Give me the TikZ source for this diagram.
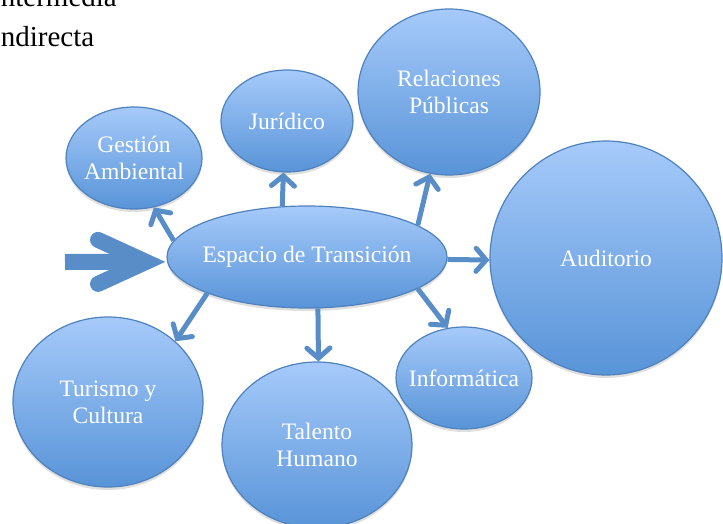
\documentclass[tikz,border=0pt]{standalone}
\usepackage{fontspec}
\setmainfont{Liberation Serif}
\usepackage{tikz}
\usetikzlibrary{positioning,arrows.meta,shapes.geometric,calc,shadows}
\definecolor{bubtop}{RGB}{166,202,250}
\definecolor{bubbot}{RGB}{88,148,216}
\definecolor{bubedge}{RGB}{79,129,189}
\definecolor{arrblue}{RGB}{88,141,200}
\tikzset{
  bubble/.style={ellipse, draw=bubedge, line width=1.2pt, top color=bubtop, bottom color=bubbot, inner sep=-20pt,
    align=center, text=white, font=\fontsize{23.6}{27}\selectfont,
    drop shadow={shadow xshift=0pt, shadow yshift=-3pt, opacity=0.25}},
  arr/.style={-{Straight Barb[length=10pt, width=23pt, line cap=round]}, line width=5pt, draw=arrblue},
  bigshaft/.style={line width=16pt, draw=arrblue},
  bigbarb/.style={line width=16pt, draw=arrblue, line cap=round, line join=miter},
  title/.style={anchor=base west, inner sep=0pt, font=\fontsize{29}{40}\selectfont},
}
\begin{document}
\begin{tikzpicture}[x=1pt, y=-1pt]
    \useasboundingbox (0,0) rectangle (723,524);
    \clip (0,0) rectangle (723,524);
    \node[title] (inter) at (-9,7) {Intermedia};
    \node[title] (indir) at (-9,47) {Indirecta};
    \node[bubble, minimum width=280, minimum height=102] (espacio) at (307,257) {Espacio de Transición};
    \node[bubble, minimum width=136, minimum height=102] (gestion) at (134,158) {Gestión\\Ambiental};
    \node[bubble, minimum width=132, minimum height=102] (juridico) at (287,121) {Jurídico};
    \node[bubble, minimum width=182, minimum height=166] (relaciones) at (449,92) {Relaciones\\Públicas};
    \node[bubble, minimum width=232, minimum height=234] (auditorio) at (606,258) {Auditorio};
    \node[bubble, minimum width=136, minimum height=102] (informatica) at (464,378) {Informática};
    \node[bubble, minimum width=190, minimum height=166] (talento) at (317,445) {Talento\\Humano};
    \node[bubble, minimum width=190, minimum height=170] (turismo) at (108,402) {Turismo y\\Cultura};
    \draw[arr] (espacio.173) -- (gestion.292);
    \draw[arr] (espacio.116) -- (juridico.266);
    \draw[arr] (espacio.16) -- (relaciones.257);
    \draw[arr] (espacio.359) -- (auditorio.181);
    \draw[arr] (espacio.344) -- (informatica.108);
    \draw[arr] (espacio.282) -- (talento.89);
    \draw[arr] (espacio.200) -- (turismo.42);
    \coordinate (entrada) at (65,262);
    \coordinate (punta) at ($(espacio.182)+(-21,0)$);
    \draw[bigshaft] (entrada) -- (punta);
    \draw[bigbarb] ($(punta)+(-48,-22)$) -- (punta) -- ($(punta)+(-48,22)$);
\end{tikzpicture}
\end{document}
